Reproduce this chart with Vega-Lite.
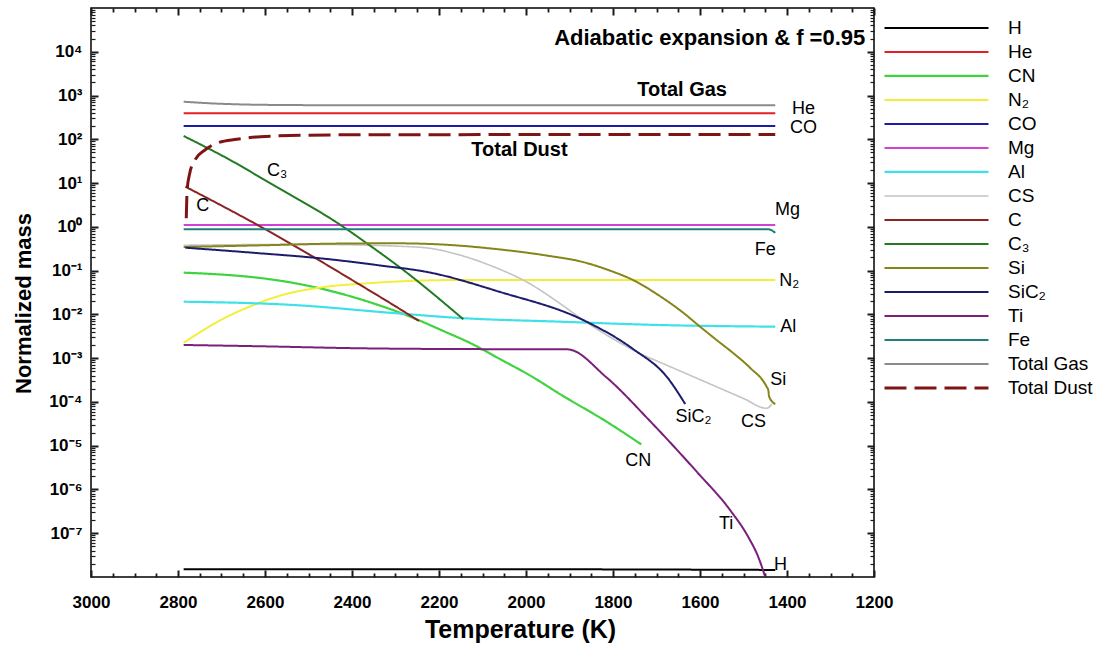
{
  "$schema": "https://vega.github.io/schema/vega-lite/v6.json",
  "width": 783,
  "height": 569,
  "autosize": {"type": "none"},
  "padding": {"left": 91, "top": 8, "right": 225, "bottom": 70},
  "config": {
    "font": "Liberation Sans",
    "view": {"stroke": "#000000", "strokeWidth": 1.5},
    "axis": {"domain": false, "grid": false, "labelColor": "#000000", "titleColor": "#000000"},
    "legend": {"padding": 0}
  },
  "datasets": {
    "series": [
      {"s": "H", "T": 2787, "v": 1.5e-8}, {"s": "H", "T": 2000, "v": 1.5e-8}, {"s": "H", "T": 1427, "v": 1.45e-8},
      {"s": "He", "T": 2787, "v": 393}, {"s": "He", "T": 1427, "v": 393},
      {"s": "CN", "T": 2787, "v": 0.0897}, {"s": "CN", "T": 2700, "v": 0.0813}, {"s": "CN", "T": 2611, "v": 0.0678}, {"s": "CN", "T": 2530, "v": 0.0513}, {"s": "CN", "T": 2458, "v": 0.0361}, {"s": "CN", "T": 2360, "v": 0.0191}, {"s": "CN", "T": 2266, "v": 0.00885}, {"s": "CN", "T": 2190, "v": 0.00417}, {"s": "CN", "T": 2123, "v": 0.00209}, {"s": "CN", "T": 2060, "v": 0.000955}, {"s": "CN", "T": 1990, "v": 0.000398}, {"s": "CN", "T": 1917, "v": 0.000141}, {"s": "CN", "T": 1815, "v": 3.55e-5}, {"s": "CN", "T": 1735, "v": 1.07e-5},
      {"s": "N₂", "T": 2787, "v": 0.00225}, {"s": "N₂", "T": 2740, "v": 0.00447}, {"s": "N₂", "T": 2687, "v": 0.00885}, {"s": "N₂", "T": 2630, "v": 0.0158}, {"s": "N₂", "T": 2573, "v": 0.0254}, {"s": "N₂", "T": 2458, "v": 0.043}, {"s": "N₂", "T": 2380, "v": 0.0501}, {"s": "N₂", "T": 2305, "v": 0.0558}, {"s": "N₂", "T": 2151, "v": 0.0611}, {"s": "N₂", "T": 1427, "v": 0.0611},
      {"s": "CO", "T": 2787, "v": 201}, {"s": "CO", "T": 1427, "v": 201},
      {"s": "Mg", "T": 2787, "v": 1.1}, {"s": "Mg", "T": 1427, "v": 1.1},
      {"s": "Al", "T": 2787, "v": 0.0195}, {"s": "Al", "T": 2535, "v": 0.0164}, {"s": "Al", "T": 2305, "v": 0.01074}, {"s": "Al", "T": 2151, "v": 0.00826}, {"s": "Al", "T": 1921, "v": 0.00681}, {"s": "Al", "T": 1691, "v": 0.00571}, {"s": "Al", "T": 1427, "v": 0.00524},
      {"s": "CS", "T": 2787, "v": 0.38}, {"s": "CS", "T": 2500, "v": 0.398}, {"s": "CS", "T": 2381, "v": 0.385}, {"s": "CS", "T": 2300, "v": 0.363}, {"s": "CS", "T": 2227, "v": 0.329}, {"s": "CS", "T": 2150, "v": 0.224}, {"s": "CS", "T": 2075, "v": 0.123}, {"s": "CS", "T": 2000, "v": 0.0562}, {"s": "CS", "T": 1922, "v": 0.0178}, {"s": "CS", "T": 1870, "v": 0.00759}, {"s": "CS", "T": 1820, "v": 0.00363}, {"s": "CS", "T": 1775, "v": 0.002}, {"s": "CS", "T": 1730, "v": 0.00117}, {"s": "CS", "T": 1700, "v": 0.000871}, {"s": "CS", "T": 1600, "v": 0.000324}, {"s": "CS", "T": 1500, "v": 0.00012}, {"s": "CS", "T": 1447, "v": 7.16e-5}, {"s": "CS", "T": 1435, "v": 8.91e-5},
      {"s": "C", "T": 2783, "v": 8.26}, {"s": "C", "T": 2687, "v": 2.62}, {"s": "C", "T": 2588, "v": 0.762}, {"s": "C", "T": 2512, "v": 0.281}, {"s": "C", "T": 2381, "v": 0.047}, {"s": "C", "T": 2305, "v": 0.0164}, {"s": "C", "T": 2246, "v": 0.00706},
      {"s": "C₃", "T": 2787, "v": 119}, {"s": "C₃", "T": 2680, "v": 33.6}, {"s": "C₃", "T": 2588, "v": 9.89}, {"s": "C₃", "T": 2423, "v": 1.047}, {"s": "C₃", "T": 2366, "v": 0.421}, {"s": "C₃", "T": 2282, "v": 0.1033}, {"s": "C₃", "T": 2144, "v": 0.00773},
      {"s": "Si", "T": 2787, "v": 0.347}, {"s": "Si", "T": 2600, "v": 0.38}, {"s": "Si", "T": 2450, "v": 0.412}, {"s": "Si", "T": 2305, "v": 0.421}, {"s": "Si", "T": 2200, "v": 0.398}, {"s": "Si", "T": 2075, "v": 0.316}, {"s": "Si", "T": 1950, "v": 0.219}, {"s": "Si", "T": 1870, "v": 0.158}, {"s": "Si", "T": 1807, "v": 0.1}, {"s": "Si", "T": 1753, "v": 0.0603}, {"s": "Si", "T": 1691, "v": 0.0257}, {"s": "Si", "T": 1640, "v": 0.0112}, {"s": "Si", "T": 1600, "v": 0.00525}, {"s": "Si", "T": 1560, "v": 0.00251}, {"s": "Si", "T": 1523, "v": 0.00129}, {"s": "Si", "T": 1485, "v": 0.000603}, {"s": "Si", "T": 1447, "v": 0.000224}, {"s": "Si", "T": 1443, "v": 0.000186}, {"s": "Si", "T": 1441, "v": 0.000132}, {"s": "Si", "T": 1427, "v": 8.91e-5},
      {"s": "SiC₂", "T": 2783, "v": 0.334}, {"s": "SiC₂", "T": 2634, "v": 0.259}, {"s": "SiC₂", "T": 2457, "v": 0.184}, {"s": "SiC₂", "T": 2335, "v": 0.131}, {"s": "SiC₂", "T": 2227, "v": 0.0929}, {"s": "SiC₂", "T": 2059, "v": 0.0324}, {"s": "SiC₂", "T": 1869, "v": 0.00745}, {"s": "SiC₂", "T": 1754, "v": 0.00162}, {"s": "SiC₂", "T": 1676, "v": 0.000371}, {"s": "SiC₂", "T": 1634, "v": 8.97e-5},
      {"s": "Ti", "T": 2787, "v": 0.002}, {"s": "Ti", "T": 2600, "v": 0.00186}, {"s": "Ti", "T": 2380, "v": 0.00168}, {"s": "Ti", "T": 2200, "v": 0.00162}, {"s": "Ti", "T": 1905, "v": 0.00159}, {"s": "Ti", "T": 1816, "v": 0.000371}, {"s": "Ti", "T": 1715, "v": 3.66e-5}, {"s": "Ti", "T": 1607, "v": 2.51e-6}, {"s": "Ti", "T": 1531, "v": 3.4e-7}, {"s": "Ti", "T": 1489, "v": 8.2e-8}, {"s": "Ti", "T": 1466, "v": 2.86e-8}, {"s": "Ti", "T": 1450, "v": 1e-8},
      {"s": "Fe", "T": 2787, "v": 0.88}, {"s": "Fe", "T": 1443, "v": 0.88}, {"s": "Fe", "T": 1427, "v": 0.73},
      {"s": "Total Gas", "T": 2787, "v": 723}, {"s": "Total Gas", "T": 2720, "v": 660}, {"s": "Total Gas", "T": 2650, "v": 625}, {"s": "Total Gas", "T": 2560, "v": 608}, {"s": "Total Gas", "T": 2450, "v": 602}, {"s": "Total Gas", "T": 1427, "v": 600},
      {"s": "Total Dust", "T": 2781, "v": 1.57}, {"s": "Total Dust", "T": 2779, "v": 6.95}, {"s": "Total Dust", "T": 2773, "v": 16.7}, {"s": "Total Dust", "T": 2761, "v": 33.6}, {"s": "Total Dust", "T": 2738, "v": 57}, {"s": "Total Dust", "T": 2712, "v": 81}, {"s": "Total Dust", "T": 2665, "v": 100}, {"s": "Total Dust", "T": 2611, "v": 115}, {"s": "Total Dust", "T": 2500, "v": 124}, {"s": "Total Dust", "T": 2400, "v": 127}, {"s": "Total Dust", "T": 1427, "v": 129}
    ],
    "labels": [
      {"text": "He", "T": 1362, "v": 490},
      {"text": "CO", "T": 1362, "v": 181},
      {"text": "C₃", "T": 2572, "v": 19},
      {"text": "C", "T": 2743, "v": 3.0},
      {"text": "Mg", "T": 1399, "v": 2.43},
      {"text": "Fe", "T": 1450, "v": 0.29},
      {"text": "N₂", "T": 1395, "v": 0.059},
      {"text": "Al", "T": 1397, "v": 0.0051},
      {"text": "Si", "T": 1420, "v": 0.000316},
      {"text": "SiC₂", "T": 1615, "v": 4.6e-5},
      {"text": "CS", "T": 1477, "v": 3.55e-5},
      {"text": "CN", "T": 1742, "v": 4.4e-6},
      {"text": "Ti", "T": 1540, "v": 1.62e-7},
      {"text": "H", "T": 1415, "v": 1.9e-8}
    ],
    "boldLabels": [
      {"text": "Total Gas", "T": 1641, "v": 1330},
      {"text": "Total Dust", "T": 2015, "v": 57}
    ],
    "titleLabel": [
      {"text": "Adiabatic expansion & f =0.95", "T": 1220, "v": 20700}
    ]
  },
  "resolve": {"scale": {"x": "independent", "y": "independent"}, "axis": {"x": "independent", "y": "independent"}},
  "layer": [
    {
      "data": {"name": "series"},
      "mark": {"type": "line", "clip": true, "interpolate": "monotone"},
      "encoding": {
        "x": {"field": "T", "type": "quantitative",
              "scale": {"domain": [1200, 3000], "reverse": true, "nice": false, "zero": false},
              "axis": {"orient": "bottom", "values": [1200, 1400, 1600, 1800, 2000, 2200, 2400, 2600, 2800, 3000], "format": "d", "ticks": true, "tickSize": -7, "tickColor": "#1a1a1a", "tickWidth": 2, "labelPadding": 24, "labelFontSize": 17, "labelFontWeight": "bold", "labelFlush": false, "title": "Temperature (K)", "titleFontSize": 25, "titleFontWeight": "bold", "titlePadding": 7, "titleX": 429}},
        "y": {"field": "v", "type": "quantitative",
              "scale": {"type": "log", "domain": [1e-8, 100000], "nice": false},
              "axis": {"orient": "left", "values": [1e-7, 1e-6, 1e-5, 1e-4, 1e-3, 1e-2, 1e-1, 1, 10, 100, 1000, 10000],
                       "labelExpr": "'10' + ['⁻⁸','⁻⁷','⁻⁶','⁻⁵','⁻⁴','⁻³','⁻²','⁻¹','⁰','¹','²','³','⁴','⁵'][round(log(datum.value)/LN10)+8]",
                       "ticks": true, "tickSize": -7, "tickColor": "#1a1a1a", "tickWidth": 2, "labelPadding": 16, "labelFontSize": 17, "labelFontWeight": "bold", "labelFlush": false,
                       "title": "Normalized mass", "titleFontSize": 22, "titleFontWeight": "bold", "titlePadding": 13, "titleY": 295}},
        "color": {"field": "s", "type": "nominal", "title": null,
                  "scale": {"domain": ["H", "He", "CN", "N₂", "CO", "Mg", "Al", "CS", "C", "C₃", "Si", "SiC₂", "Ti", "Fe", "Total Gas", "Total Dust"],
                            "range": ["#000000", "#e31e24", "#3fd43f", "#f2ee3a", "#1c1ca6", "#d43fd4", "#40e0e8", "#c4c4c4", "#8b2323", "#237a23", "#85851a", "#1c1c6b", "#7a1f7a", "#1f7f7f", "#8a8a8a", "#7f1414"]},
                  "legend": {"orient": "none", "legendX": 792, "legendY": 8, "symbolType": "stroke", "symbolSize": 10816, "clipHeight": 23.9, "rowPadding": 0, "labelOffset": 18, "labelFontSize": 19, "labelColor": "#000000", "labelLimit": 200}},
        "strokeDash": {"field": "s", "type": "nominal", "title": null,
                  "scale": {"domain": ["H", "He", "CN", "N₂", "CO", "Mg", "Al", "CS", "C", "C₃", "Si", "SiC₂", "Ti", "Fe", "Total Gas", "Total Dust"],
                            "range": [[1, 0], [1, 0], [1, 0], [1, 0], [1, 0], [1, 0], [1, 0], [1, 0], [1, 0], [1, 0], [1, 0], [1, 0], [1, 0], [1, 0], [1, 0], [22, 8]]}},
        "strokeWidth": {"field": "s", "type": "nominal", "title": null,
                  "scale": {"type": "ordinal", "domain": ["H", "He", "CN", "N₂", "CO", "Mg", "Al", "CS", "C", "C₃", "Si", "SiC₂", "Ti", "Fe", "Total Gas", "Total Dust"],
                            "range": [2, 2, 2.2, 2, 2, 2, 2.2, 1.6, 2, 2, 2, 2, 2, 2, 2, 3]}}
      }
    },
    {
      "data": {"name": "series"},
      "mark": {"type": "line", "opacity": 0},
      "encoding": {
        "x": {"field": "T", "type": "quantitative", "scale": {"domain": [1200, 3000], "reverse": true, "nice": false, "zero": false},
              "axis": {"orient": "top", "values": [1200, 1400, 1600, 1800, 2000, 2200, 2400, 2600, 2800, 3000], "ticks": true, "tickSize": -7, "tickColor": "#1a1a1a", "tickWidth": 2, "labels": false, "title": null}},
        "y": {"field": "v", "type": "quantitative", "scale": {"type": "log", "domain": [1e-8, 100000], "nice": false},
              "axis": {"orient": "right", "values": [1e-7, 1e-6, 1e-5, 1e-4, 1e-3, 1e-2, 1e-1, 1, 10, 100, 1000, 10000], "ticks": true, "tickSize": -7, "tickColor": "#1a1a1a", "tickWidth": 2, "labels": false, "title": null}}
      }
    },
    {
      "data": {"name": "series"},
      "mark": {"type": "line", "opacity": 0},
      "encoding": {
        "x": {"field": "T", "type": "quantitative", "scale": {"domain": [1200, 3000], "reverse": true, "nice": false, "zero": false},
              "axis": {"orient": "bottom", "values": [1250, 1300, 1350, 1450, 1500, 1550, 1650, 1700, 1750, 1850, 1900, 1950, 2050, 2100, 2150, 2250, 2300, 2350, 2450, 2500, 2550, 2650, 2700, 2750, 2850, 2900, 2950], "ticks": true, "tickSize": -4, "tickColor": "#1a1a1a", "tickWidth": 1.8, "labels": false, "title": null}},
        "y": {"field": "v", "type": "quantitative", "scale": {"type": "log", "domain": [1e-8, 100000], "nice": false},
              "axis": {"orient": "left", "values": [2e-8, 3e-8, 4e-8, 5e-8, 6e-8, 7e-8, 8e-8, 9e-8, 2e-7, 3e-7, 4e-7, 5e-7, 6e-7, 7e-7, 8e-7, 9e-7, 2e-6, 3e-6, 4e-6, 5e-6, 6e-6, 7e-6, 8e-6, 9e-6, 2e-5, 3e-5, 4e-5, 5e-5, 6e-5, 7e-5, 8e-5, 9e-5, 0.0002, 0.0003, 0.0004, 0.0005, 0.0006, 0.0007, 0.0008, 0.0009, 0.002, 0.003, 0.004, 0.005, 0.006, 0.007, 0.008, 0.009, 0.02, 0.03, 0.04, 0.05, 0.06, 0.07, 0.08, 0.09, 0.2, 0.3, 0.4, 0.5, 0.6, 0.7, 0.8, 0.9, 2, 3, 4, 5, 6, 7, 8, 9, 20, 30, 40, 50, 60, 70, 80, 90, 200, 300, 400, 500, 600, 700, 800, 900, 2000, 3000, 4000, 5000, 6000, 7000, 8000, 9000, 20000, 30000, 40000, 50000, 60000, 70000, 80000, 90000], "ticks": true, "tickSize": -4, "tickColor": "#1a1a1a", "tickWidth": 1.2, "labels": false, "title": null}}
      }
    },
    {
      "data": {"name": "series"},
      "mark": {"type": "line", "opacity": 0},
      "encoding": {
        "x": {"field": "T", "type": "quantitative", "scale": {"domain": [1200, 3000], "reverse": true, "nice": false, "zero": false},
              "axis": {"orient": "top", "values": [1250, 1300, 1350, 1450, 1500, 1550, 1650, 1700, 1750, 1850, 1900, 1950, 2050, 2100, 2150, 2250, 2300, 2350, 2450, 2500, 2550, 2650, 2700, 2750, 2850, 2900, 2950], "ticks": true, "tickSize": -4, "tickColor": "#1a1a1a", "tickWidth": 1.8, "labels": false, "title": null}},
        "y": {"field": "v", "type": "quantitative", "scale": {"type": "log", "domain": [1e-8, 100000], "nice": false},
              "axis": {"orient": "right", "values": [2e-8, 3e-8, 4e-8, 5e-8, 6e-8, 7e-8, 8e-8, 9e-8, 2e-7, 3e-7, 4e-7, 5e-7, 6e-7, 7e-7, 8e-7, 9e-7, 2e-6, 3e-6, 4e-6, 5e-6, 6e-6, 7e-6, 8e-6, 9e-6, 2e-5, 3e-5, 4e-5, 5e-5, 6e-5, 7e-5, 8e-5, 9e-5, 0.0002, 0.0003, 0.0004, 0.0005, 0.0006, 0.0007, 0.0008, 0.0009, 0.002, 0.003, 0.004, 0.005, 0.006, 0.007, 0.008, 0.009, 0.02, 0.03, 0.04, 0.05, 0.06, 0.07, 0.08, 0.09, 0.2, 0.3, 0.4, 0.5, 0.6, 0.7, 0.8, 0.9, 2, 3, 4, 5, 6, 7, 8, 9, 20, 30, 40, 50, 60, 70, 80, 90, 200, 300, 400, 500, 600, 700, 800, 900, 2000, 3000, 4000, 5000, 6000, 7000, 8000, 9000, 20000, 30000, 40000, 50000, 60000, 70000, 80000, 90000], "ticks": true, "tickSize": -4, "tickColor": "#1a1a1a", "tickWidth": 1.2, "labels": false, "title": null}}
      }
    },
    {
      "data": {"name": "labels"},
      "mark": {"type": "text", "fontSize": 18, "align": "center", "baseline": "middle", "color": "#000000"},
      "encoding": {
        "x": {"field": "T", "type": "quantitative", "scale": {"domain": [1200, 3000], "reverse": true, "nice": false, "zero": false}, "axis": null},
        "y": {"field": "v", "type": "quantitative", "scale": {"type": "log", "domain": [1e-8, 100000], "nice": false}, "axis": null},
        "text": {"field": "text"}
      }
    },
    {
      "data": {"name": "boldLabels"},
      "mark": {"type": "text", "fontSize": 20, "fontWeight": "bold", "align": "center", "baseline": "middle", "color": "#000000"},
      "encoding": {
        "x": {"field": "T", "type": "quantitative", "scale": {"domain": [1200, 3000], "reverse": true, "nice": false, "zero": false}, "axis": null},
        "y": {"field": "v", "type": "quantitative", "scale": {"type": "log", "domain": [1e-8, 100000], "nice": false}, "axis": null},
        "text": {"field": "text"}
      }
    },
    {
      "data": {"name": "titleLabel"},
      "mark": {"type": "text", "fontSize": 22, "fontWeight": "bold", "align": "right", "baseline": "middle", "color": "#000000"},
      "encoding": {
        "x": {"field": "T", "type": "quantitative", "scale": {"domain": [1200, 3000], "reverse": true, "nice": false, "zero": false}, "axis": null},
        "y": {"field": "v", "type": "quantitative", "scale": {"type": "log", "domain": [1e-8, 100000], "nice": false}, "axis": null},
        "text": {"field": "text"}
      }
    }
  ]
}
